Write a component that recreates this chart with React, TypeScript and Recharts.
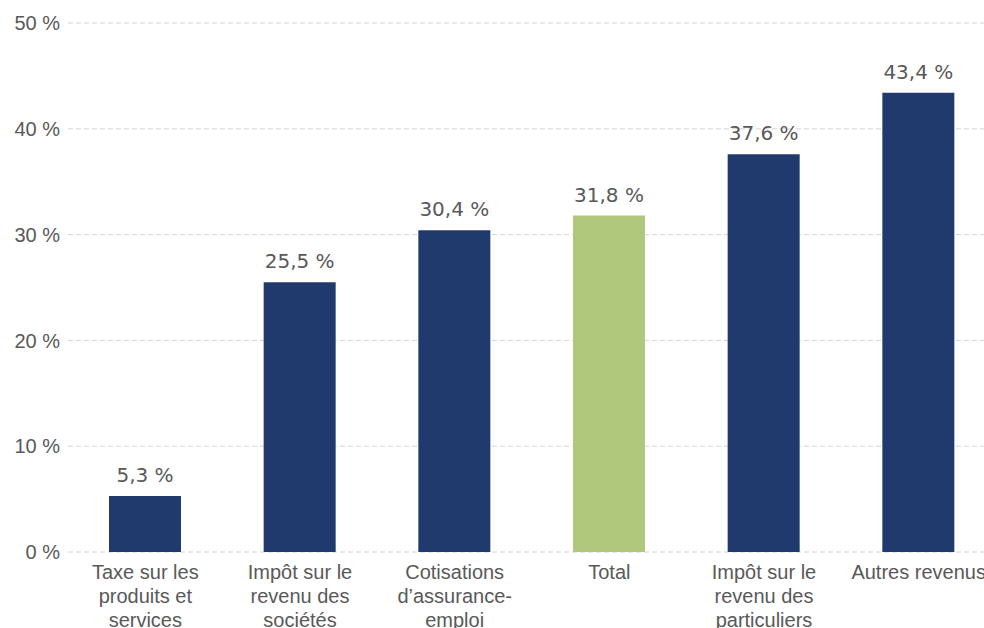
import { BarChart, Bar, XAxis, YAxis, CartesianGrid, Cell, LabelList } from 'recharts';

const categories = [
  'Taxe sur les|produits et|services',
  'Impôt sur le|revenu des|sociétés',
  'Cotisations|d’assurance-|emploi',
  'Total',
  'Impôt sur le|revenu des|particuliers',
  'Autres revenus',
];
const values = [5.3, 25.5, 30.4, 31.8, 37.6, 43.4];
const highlighted = ['Total'];
const yTicks = [0, 10, 20, 30, 40, 50];

const NAVY = '#203a6d';
const GREEN = '#b0c87c';
const TEXT = '#595959';

const data = categories.map((c, i) => ({ name: c, value: values[i] }));

const fmt = (v: number) => `${v.toFixed(1).replace('.', ',')} %`;

function CategoryTick({ x, y, payload }: any) {
  const lines = String(payload.value).split('|');
  return (
    <text x={x} y={y} textAnchor="middle" fill={TEXT} fontSize={20} fontFamily="'Liberation Sans', Arial, sans-serif">
      {lines.map((l, i) => (
        <tspan key={i} x={x} dy={i === 0 ? 19 : 24}>
          {l}
        </tspan>
      ))}
    </text>
  );
}

export default function App() {
  return (
    <div style={{ position: 'absolute', left: 0, top: 0, width: 984, height: 628, overflow: 'hidden', background: '#fff' }}>
      <BarChart width={1000} height={660} data={data} margin={{ top: 23, right: 4, bottom: 0, left: 0 }}>
        <CartesianGrid vertical={false} stroke="#d4d4d4" strokeDasharray="5 3" />
        <XAxis
          dataKey="name"
          axisLine={false}
          tickLine={false}
          interval={0}
          height={108}
          tick={<CategoryTick />}
        />
        <YAxis
          domain={[0, 50]}
          ticks={yTicks}
          width={68}
          axisLine={false}
          tickLine={false}
          tickFormatter={(v: number) => `${v} %`}
          tick={{ fill: TEXT, fontSize: 20, fontFamily: "'Liberation Sans', Arial, sans-serif" }}
        />
        <Bar dataKey="value" barSize={72} isAnimationActive={false}>
          {data.map((d, i) => (
            <Cell key={i} fill={highlighted.includes(d.name) ? GREEN : NAVY} />
          ))}
          <LabelList
            dataKey="value"
            position="top"
            offset={14}
            formatter={(v: any) => fmt(Number(v))}
            fill={TEXT}
            fontSize={20}
            fontFamily="'DejaVu Sans', sans-serif"
          />
        </Bar>
      </BarChart>
    </div>
  );
}
